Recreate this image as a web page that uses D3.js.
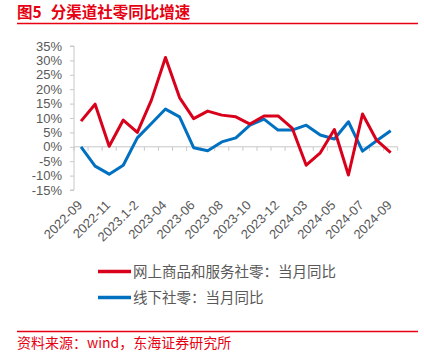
<!DOCTYPE html>
<html><head><meta charset="utf-8">
<script src="https://cdn.jsdelivr.net/npm/d3@7"></script>
<style>body{margin:0;background:#fff}svg{display:block}</style>
</head><body>
<svg id="c" width="424" height="353"></svg>
<script>
const categories = ["2022-09","2022-10","2022-11","2022-12","2023.1-2","2023-03","2023-04","2023-05","2023-06","2023-07","2023-08","2023-09","2023-10","2023-11","2023-12","2024.1-2","2024-03","2024-04","2024-05","2024-06","2024-07","2024-08","2024-09"];
const tickLabels = ["2022-09","2022-11","2023.1-2","2023-04","2023-06","2023-08","2023-10","2023-12","2024-03","2024-05","2024-07","2024-09"];
const onlineValues = [8.9,14.8,0.2,9.3,5.0,16.2,31.0,17.1,9.8,12.4,11.0,10.4,7.9,10.7,10.7,6.5,-6.4,-2.1,6.0,-9.8,11.4,2.3,-2.0];
const offlineValues = [0.0,-6.7,-9.5,-6.4,3.1,8.1,13.1,10.4,-0.3,-1.4,1.7,3.1,7.5,9.6,5.8,5.8,7.5,4.1,2.7,8.7,-1.5,2.1,5.6];
const yTicks = [35,30,25,20,15,10,5,0,-5,-10,-15];
const seriesNames = ["网上商品和服务社零：当月同比","线下社零：当月同比"];

const svg = d3.select("#c");
const red = "#d9001b", blue = "#0070c0", gray = "#595959", axisCol = "#c8c8c8";
const font = "'Liberation Sans', Arial, sans-serif";
const cjk = "'Noto Sans CJK SC', sans-serif";

// title
const tt = svg.append("text").attr("x",17).attr("y",18).attr("fill","#e60012")
  .attr("font-family",cjk).attr("font-weight","bold").attr("font-size",15.5);
tt.append("tspan").text("图5");
tt.append("tspan").attr("dx",9).text("分渠道社零同比增速");
svg.append("line").attr("x1",17).attr("x2",418).attr("y1",23.5).attr("y2",23.5)
  .attr("stroke","#e60012").attr("stroke-width",1.5);

const x = d3.scaleBand().domain(categories).range([74,397.7]);
const y = d3.scaleLinear().domain([-15,35]).range([190,46]);
const cx = d => x(d) + x.bandwidth()/2;

// y axis
const ya = svg.append("g").attr("transform","translate(74,0)")
  .call(d3.axisLeft(y).tickValues(yTicks).tickSize(4).tickFormat(d=>d+"%"));
ya.select(".domain").attr("stroke",axisCol).attr("d","M-4,"+y(35)+"H0V"+y(-15)+"H-4");
ya.selectAll(".tick line").attr("stroke",axisCol);
ya.selectAll(".tick text").attr("fill",gray).attr("font-family",font).attr("font-size",13).attr("x",-12);

// x axis at zero
const xa = svg.append("g").attr("transform","translate(0,"+y(0)+")");
xa.append("line").attr("x1",74).attr("x2",397.7).attr("y1",0).attr("y2",0).attr("stroke",axisCol);
const bounds = categories.map(c=>x(c)).concat([x(categories[categories.length-1])+x.bandwidth()]);
xa.selectAll("line.tk").data(bounds).join("line").attr("class","tk")
  .attr("x1",d=>d).attr("x2",d=>d).attr("y1",0).attr("y2",4).attr("stroke",axisCol);

// x labels
svg.append("g").selectAll("text").data(tickLabels).join("text")
  .attr("transform",d=>`translate(${cx(d)+2},206) rotate(-45)`)
  .attr("text-anchor","end").attr("fill",gray).attr("font-family",font).attr("font-size",13)
  .text(d=>d);

// lines
const line = d3.line().x((d,i)=>cx(categories[i])).y(d=>y(d));
svg.append("path").datum(offlineValues).attr("d",line).attr("fill","none").attr("stroke",blue).attr("stroke-width",3).attr("stroke-linejoin","round");
svg.append("path").datum(onlineValues).attr("d",line).attr("fill","none").attr("stroke",red).attr("stroke-width",3).attr("stroke-linejoin","round");

// legend
const lg = svg.append("g");
[[red,seriesNames[0],271.5],[blue,seriesNames[1],297.5]].forEach(([c,t,yy])=>{
  lg.append("line").attr("x1",98).attr("x2",131).attr("y1",yy).attr("y2",yy).attr("stroke",c).attr("stroke-width",3.5);
  lg.append("text").attr("x",133).attr("y",yy+5).attr("fill",gray).attr("font-family",cjk).attr("font-size",14.5).text(t);
});

// footer
svg.append("line").attr("x1",17).attr("x2",418).attr("y1",331.5).attr("y2",331.5).attr("stroke","#e60012").attr("stroke-width",1.5);
svg.append("text").attr("x",17).attr("y",348).attr("fill","#e60012").attr("font-family",cjk).attr("font-size",14)
  .text("资料来源：wind，东海证券研究所");
</script>
</body></html>
